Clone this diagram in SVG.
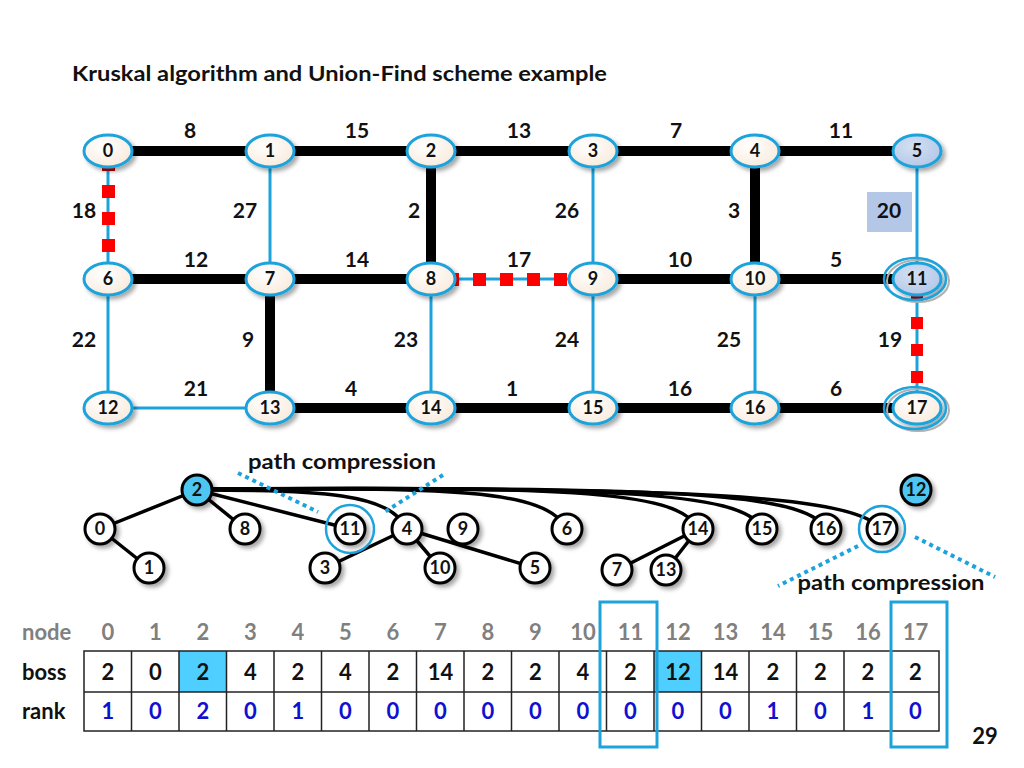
<svg xmlns="http://www.w3.org/2000/svg" width="1024" height="768" viewBox="0 0 1024 768">
<defs>
<radialGradient id="ng" cx="0.4" cy="0.35" r="0.7">
<stop offset="0" stop-color="#ffffff"/>
<stop offset="1" stop-color="#f8eadb"/>
</radialGradient>
<radialGradient id="bg" cx="0.4" cy="0.35" r="0.7">
<stop offset="0" stop-color="#d3e0f3"/>
<stop offset="1" stop-color="#b4c7e7"/>
</radialGradient>
<filter id="sh" x="-30%" y="-30%" width="170%" height="180%">
<feDropShadow dx="3" dy="3" stdDeviation="2" flood-color="#000" flood-opacity="0.35"/>
</filter>
</defs>
<style>
text{font-family:Lato,"Open Sans","Liberation Sans",sans-serif;font-weight:bold;}
.title{font-size:20px;fill:#111;}
.w{font-size:21px;fill:#111;text-anchor:middle;}
.nl{font-size:18px;fill:#111;text-anchor:middle;}
.tl{font-size:18px;fill:#111;text-anchor:middle;}
.n{fill:url(#ng);stroke:#1ca3dc;stroke-width:3;filter:url(#sh);}
.nb{fill:url(#bg);stroke:#1ca3dc;stroke-width:3;filter:url(#sh);}
.ring{fill:none;stroke:#1ca3dc;stroke-width:2.5;}
.ringsh{fill:none;stroke:#b0b0b0;stroke-width:2;}
.thick{stroke:#000;stroke-width:10;fill:none;}
.thin{stroke:#1ca3dc;stroke-width:3;fill:none;}
.rq{fill:#ff0000;}
.tc{fill:#fff;stroke:#000;stroke-width:3;filter:url(#sh);}
.tcb{fill:#4dc6f2;stroke:#000;stroke-width:3;filter:url(#sh);}
.te{stroke:#000;stroke-width:3.5;fill:none;}
.dot{stroke:#1ca3dc;stroke-width:4;stroke-dasharray:4 4;fill:none;}
.hd{font-size:22px;fill:#808080;text-anchor:middle;}
.bv{font-size:22px;fill:#111;text-anchor:middle;}
.rv{font-size:22px;fill:#1010d0;text-anchor:middle;}
.cell{fill:none;stroke:#222;stroke-width:1.5;}
.sel{fill:none;stroke:#1ca3dc;stroke-width:3;}
</style>
<rect width="1024" height="768" fill="#fff"/>
<text class="title" x="72" y="81" textLength="535" lengthAdjust="spacingAndGlyphs">Kruskal algorithm and Union-Find scheme example</text>

<g id="connectors">
<line class="thin" x1="108" y1="151" x2="108" y2="279"/>
<line class="thin" x1="270" y1="151" x2="270" y2="279"/>
<line class="thin" x1="593" y1="151" x2="593" y2="279"/>
<line class="thin" x1="917" y1="151" x2="917" y2="279"/>
<line class="thin" x1="108" y1="279" x2="108" y2="408"/>
<line class="thin" x1="431" y1="279" x2="431" y2="408"/>
<line class="thin" x1="593" y1="279" x2="593" y2="408"/>
<line class="thin" x1="755" y1="279" x2="755" y2="408"/>
<line class="thin" x1="917" y1="279" x2="917" y2="408"/>
<line class="thin" x1="108" y1="408" x2="270" y2="408"/>
<line class="thin" x1="431" y1="279" x2="593" y2="279"/>
<line class="thick" x1="108" y1="151" x2="917" y2="151"/>
<line class="thick" x1="108" y1="279" x2="431" y2="279"/>
<line class="thick" x1="593" y1="279" x2="917" y2="279"/>
<line class="thick" x1="270" y1="408" x2="917" y2="408"/>
<line class="thick" x1="431" y1="151" x2="431" y2="279"/>
<line class="thick" x1="755" y1="151" x2="755" y2="279"/>
<line class="thick" x1="270" y1="279" x2="270" y2="408"/>
<rect x="102" y="158" width="13" height="13" fill="#c00000"/>
<rect class="rq" x="102" y="185" width="13" height="13"/>
<rect class="rq" x="102" y="212" width="13" height="13"/>
<rect class="rq" x="102" y="239" width="13" height="13"/>
<rect class="rq" x="446" y="273" width="13" height="13"/>
<rect class="rq" x="473" y="273" width="13" height="13"/>
<rect class="rq" x="500" y="273" width="13" height="13"/>
<rect class="rq" x="527" y="273" width="13" height="13"/>
<rect class="rq" x="554" y="273" width="13" height="13"/>
<rect x="911" y="290" width="12" height="12" fill="#c00000"/>
<rect class="rq" x="911" y="317" width="12" height="12"/>
<rect class="rq" x="911" y="344" width="12" height="12"/>
<rect class="rq" x="911" y="371" width="12" height="12"/>
<line class="te" x1="197" y1="490" x2="100" y2="529"/>
<line class="te" x1="100" y1="529" x2="149" y2="568"/>
<line class="te" x1="197" y1="490" x2="245" y2="529"/>
<line class="te" x1="197" y1="490" x2="350" y2="529"/>
<line class="te" x1="407" y1="529" x2="325" y2="568"/>
<line class="te" x1="407" y1="529" x2="440" y2="568"/>
<line class="te" x1="407" y1="529" x2="535" y2="568"/>
<line class="te" x1="698" y1="529" x2="617" y2="570"/>
<line class="te" x1="698" y1="529" x2="666" y2="570"/>
<path class="te" d="M197 490 C320 490 390 493 407 529"/>
<path class="te" d="M197 489 C450 488 545 488 567 529"/>
<path class="te" d="M197 489 C550 487 680 488 698 529"/>
<path class="te" d="M197 489 C600 487 745 490 762 529"/>
<path class="te" d="M197 489 C650 487 805 490 826 529"/>
<path class="te" d="M197 489 C700 487 850 495 882 529"/>
</g>

<g id="edge-labels">
<text class="w" x="190" y="138">8</text>
<text class="w" x="357" y="138">15</text>
<text class="w" x="519" y="138">13</text>
<text class="w" x="676" y="138">7</text>
<text class="w" x="841" y="138">11</text>
<text class="w" x="84" y="218">18</text>
<text class="w" x="245" y="218">27</text>
<text class="w" x="414" y="218">2</text>
<text class="w" x="567" y="218">26</text>
<text class="w" x="734" y="218">3</text>
<rect x="867" y="192" width="45" height="40" fill="#b4c7e7"/>
<text class="w" x="889" y="218">20</text>
<text class="w" x="196" y="267">12</text>
<text class="w" x="357" y="267">14</text>
<text class="w" x="519" y="267">17</text>
<text class="w" x="680" y="267">10</text>
<text class="w" x="836" y="267">5</text>
<text class="w" x="84" y="347">22</text>
<text class="w" x="248" y="347">9</text>
<text class="w" x="406" y="347">23</text>
<text class="w" x="567" y="347">24</text>
<text class="w" x="729" y="347">25</text>
<text class="w" x="890" y="347">19</text>
<text class="w" x="196" y="396">21</text>
<text class="w" x="351" y="396">4</text>
<text class="w" x="512" y="396">1</text>
<text class="w" x="680" y="396">16</text>
<text class="w" x="836" y="396">6</text>
</g>

<g id="g0"><ellipse class="n" cx="108" cy="151" rx="24" ry="16"/><text class="nl" x="108" y="157">0</text></g>
<g id="g1"><ellipse class="n" cx="270" cy="151" rx="24" ry="16"/><text class="nl" x="270" y="157">1</text></g>
<g id="g2"><ellipse class="n" cx="431" cy="151" rx="24" ry="16"/><text class="nl" x="431" y="157">2</text></g>
<g id="g3"><ellipse class="n" cx="593" cy="151" rx="24" ry="16"/><text class="nl" x="593" y="157">3</text></g>
<g id="g4"><ellipse class="n" cx="755" cy="151" rx="24" ry="16"/><text class="nl" x="755" y="157">4</text></g>
<g id="g5"><ellipse class="nb" cx="917" cy="151" rx="24" ry="16"/><text class="nl" x="917" y="157">5</text></g>
<g id="g6"><ellipse class="n" cx="108" cy="279" rx="24" ry="16"/><text class="nl" x="108" y="285">6</text></g>
<g id="g7"><ellipse class="n" cx="270" cy="279" rx="24" ry="16"/><text class="nl" x="270" y="285">7</text></g>
<g id="g8"><ellipse class="n" cx="431" cy="279" rx="24" ry="16"/><text class="nl" x="431" y="285">8</text></g>
<g id="g9"><ellipse class="n" cx="593" cy="279" rx="24" ry="16"/><text class="nl" x="593" y="285">9</text></g>
<g id="g10"><ellipse class="n" cx="755" cy="279" rx="24" ry="16"/><text class="nl" x="755" y="285">10</text></g>
<g id="g11"><ellipse class="nb" cx="917" cy="279" rx="24" ry="16"/><text class="nl" x="917" y="285">11</text><ellipse class="ringsh" cx="918" cy="281" rx="31" ry="21"/><ellipse class="ring" cx="915" cy="279" rx="31" ry="21"/></g>
<g id="g12"><ellipse class="n" cx="108" cy="408" rx="24" ry="16"/><text class="nl" x="108" y="414">12</text></g>
<g id="g13"><ellipse class="n" cx="270" cy="408" rx="24" ry="16"/><text class="nl" x="270" y="414">13</text></g>
<g id="g14"><ellipse class="n" cx="431" cy="408" rx="24" ry="16"/><text class="nl" x="431" y="414">14</text></g>
<g id="g15"><ellipse class="n" cx="593" cy="408" rx="24" ry="16"/><text class="nl" x="593" y="414">15</text></g>
<g id="g16"><ellipse class="n" cx="755" cy="408" rx="24" ry="16"/><text class="nl" x="755" y="414">16</text></g>
<g id="g17"><ellipse class="n" cx="917" cy="408" rx="24" ry="16"/><text class="nl" x="917" y="414">17</text><ellipse class="ringsh" cx="918" cy="410" rx="31" ry="21"/><ellipse class="ring" cx="915" cy="408" rx="31" ry="21"/></g>

<g id="compression-notes">
<text class="w" x="342" y="469" textLength="188" lengthAdjust="spacingAndGlyphs">path compression</text>
<line class="dot" x1="238" y1="473" x2="318" y2="512"/>
<line class="dot" x1="443" y1="475" x2="383" y2="513"/>
<text class="w" x="891" y="590" textLength="187" lengthAdjust="spacingAndGlyphs">path compression</text>
<line class="dot" x1="858" y1="546" x2="778" y2="586"/>
<line class="dot" x1="915" y1="537" x2="995" y2="577"/>
</g>

<g id="t2"><circle class="tcb" cx="197" cy="490" r="15"/><text class="tl" x="197" y="496">2</text></g>
<g id="t12"><circle class="tcb" cx="916" cy="490" r="15"/><text class="tl" x="916" y="496">12</text></g>
<g id="t0"><circle class="tc" cx="100" cy="529" r="15"/><text class="tl" x="100" y="535">0</text></g>
<g id="t8"><circle class="tc" cx="245" cy="529" r="15"/><text class="tl" x="245" y="535">8</text></g>
<g id="t11"><circle class="tc" cx="350" cy="529" r="15"/><text class="tl" x="350" y="535">11</text><circle class="ring" cx="350" cy="529" r="24"/></g>
<g id="t4"><circle class="tc" cx="407" cy="529" r="15"/><text class="tl" x="407" y="535">4</text></g>
<g id="t9"><circle class="tc" cx="463" cy="529" r="15"/><text class="tl" x="463" y="535">9</text></g>
<g id="t6"><circle class="tc" cx="567" cy="529" r="15"/><text class="tl" x="567" y="535">6</text></g>
<g id="t14"><circle class="tc" cx="698" cy="529" r="15"/><text class="tl" x="698" y="535">14</text></g>
<g id="t15"><circle class="tc" cx="762" cy="529" r="15"/><text class="tl" x="762" y="535">15</text></g>
<g id="t16"><circle class="tc" cx="826" cy="529" r="15"/><text class="tl" x="826" y="535">16</text></g>
<g id="t17"><circle class="tc" cx="882" cy="529" r="15"/><text class="tl" x="882" y="535">17</text><circle class="ring" cx="882" cy="529" r="23"/></g>
<g id="t1"><circle class="tc" cx="149" cy="568" r="15"/><text class="tl" x="149" y="574">1</text></g>
<g id="t3"><circle class="tc" cx="325" cy="568" r="15"/><text class="tl" x="325" y="574">3</text></g>
<g id="t10"><circle class="tc" cx="440" cy="568" r="15"/><text class="tl" x="440" y="574">10</text></g>
<g id="t5"><circle class="tc" cx="535" cy="568" r="15"/><text class="tl" x="535" y="574">5</text></g>
<g id="t7"><circle class="tc" cx="617" cy="570" r="15"/><text class="tl" x="617" y="576">7</text></g>
<g id="t13"><circle class="tc" cx="666" cy="570" r="15"/><text class="tl" x="666" y="576">13</text></g>

<g id="table">
<rect x="179" y="651" width="47.5" height="41" fill="#4fcfff"/>
<rect x="654" y="651" width="47.5" height="41" fill="#4fcfff"/>
<rect class="cell" x="84" y="651" width="855" height="80"/>
<line class="cell" x1="84" y1="692" x2="939" y2="692"/>
<path class="cell" d="M131.5 651V731M179 651V731M226.5 651V731M274 651V731M321.5 651V731M369 651V731M416.5 651V731M464 651V731M511.5 651V731M559 651V731M606.5 651V731M654 651V731M701.5 651V731M749 651V731M796.5 651V731M844 651V731M891.5 651V731"/>
<text x="22" y="640" style="font-size:22px;fill:#808080">node</text>
<text x="22" y="680" style="font-size:22px;fill:#111">boss</text>
<text x="22" y="719" style="font-size:22px;fill:#111">rank</text>
<text class="hd" x="108" y="640">0</text><text class="hd" x="155.5" y="640">1</text><text class="hd" x="203" y="640">2</text><text class="hd" x="250.5" y="640">3</text><text class="hd" x="298" y="640">4</text><text class="hd" x="345.5" y="640">5</text><text class="hd" x="393" y="640">6</text><text class="hd" x="440.5" y="640">7</text><text class="hd" x="488" y="640">8</text><text class="hd" x="535.5" y="640">9</text><text class="hd" x="583" y="640">10</text><text class="hd" x="630.5" y="640">11</text><text class="hd" x="678" y="640">12</text><text class="hd" x="725.5" y="640">13</text><text class="hd" x="773" y="640">14</text><text class="hd" x="820.5" y="640">15</text><text class="hd" x="868" y="640">16</text><text class="hd" x="915.5" y="640">17</text>
<text class="bv" x="108" y="680">2</text><text class="bv" x="155.5" y="680">0</text><text class="bv" x="203" y="680">2</text><text class="bv" x="250.5" y="680">4</text><text class="bv" x="298" y="680">2</text><text class="bv" x="345.5" y="680">4</text><text class="bv" x="393" y="680">2</text><text class="bv" x="440.5" y="680">14</text><text class="bv" x="488" y="680">2</text><text class="bv" x="535.5" y="680">2</text><text class="bv" x="583" y="680">4</text><text class="bv" x="630.5" y="680">2</text><text class="bv" x="678" y="680">12</text><text class="bv" x="725.5" y="680">14</text><text class="bv" x="773" y="680">2</text><text class="bv" x="820.5" y="680">2</text><text class="bv" x="868" y="680">2</text><text class="bv" x="915.5" y="680">2</text>
<text class="rv" x="108" y="719">1</text><text class="rv" x="155.5" y="719">0</text><text class="rv" x="203" y="719">2</text><text class="rv" x="250.5" y="719">0</text><text class="rv" x="298" y="719">1</text><text class="rv" x="345.5" y="719">0</text><text class="rv" x="393" y="719">0</text><text class="rv" x="440.5" y="719">0</text><text class="rv" x="488" y="719">0</text><text class="rv" x="535.5" y="719">0</text><text class="rv" x="583" y="719">0</text><text class="rv" x="630.5" y="719">0</text><text class="rv" x="678" y="719">0</text><text class="rv" x="725.5" y="719">0</text><text class="rv" x="773" y="719">1</text><text class="rv" x="820.5" y="719">0</text><text class="rv" x="868" y="719">1</text><text class="rv" x="915.5" y="719">0</text>
<rect class="sel" x="600" y="602" width="57" height="145"/>
<rect class="sel" x="891" y="602" width="56" height="145"/>
</g>
<text x="985" y="744" style="font-size:22px;fill:#111;text-anchor:middle">29</text>
</svg>
